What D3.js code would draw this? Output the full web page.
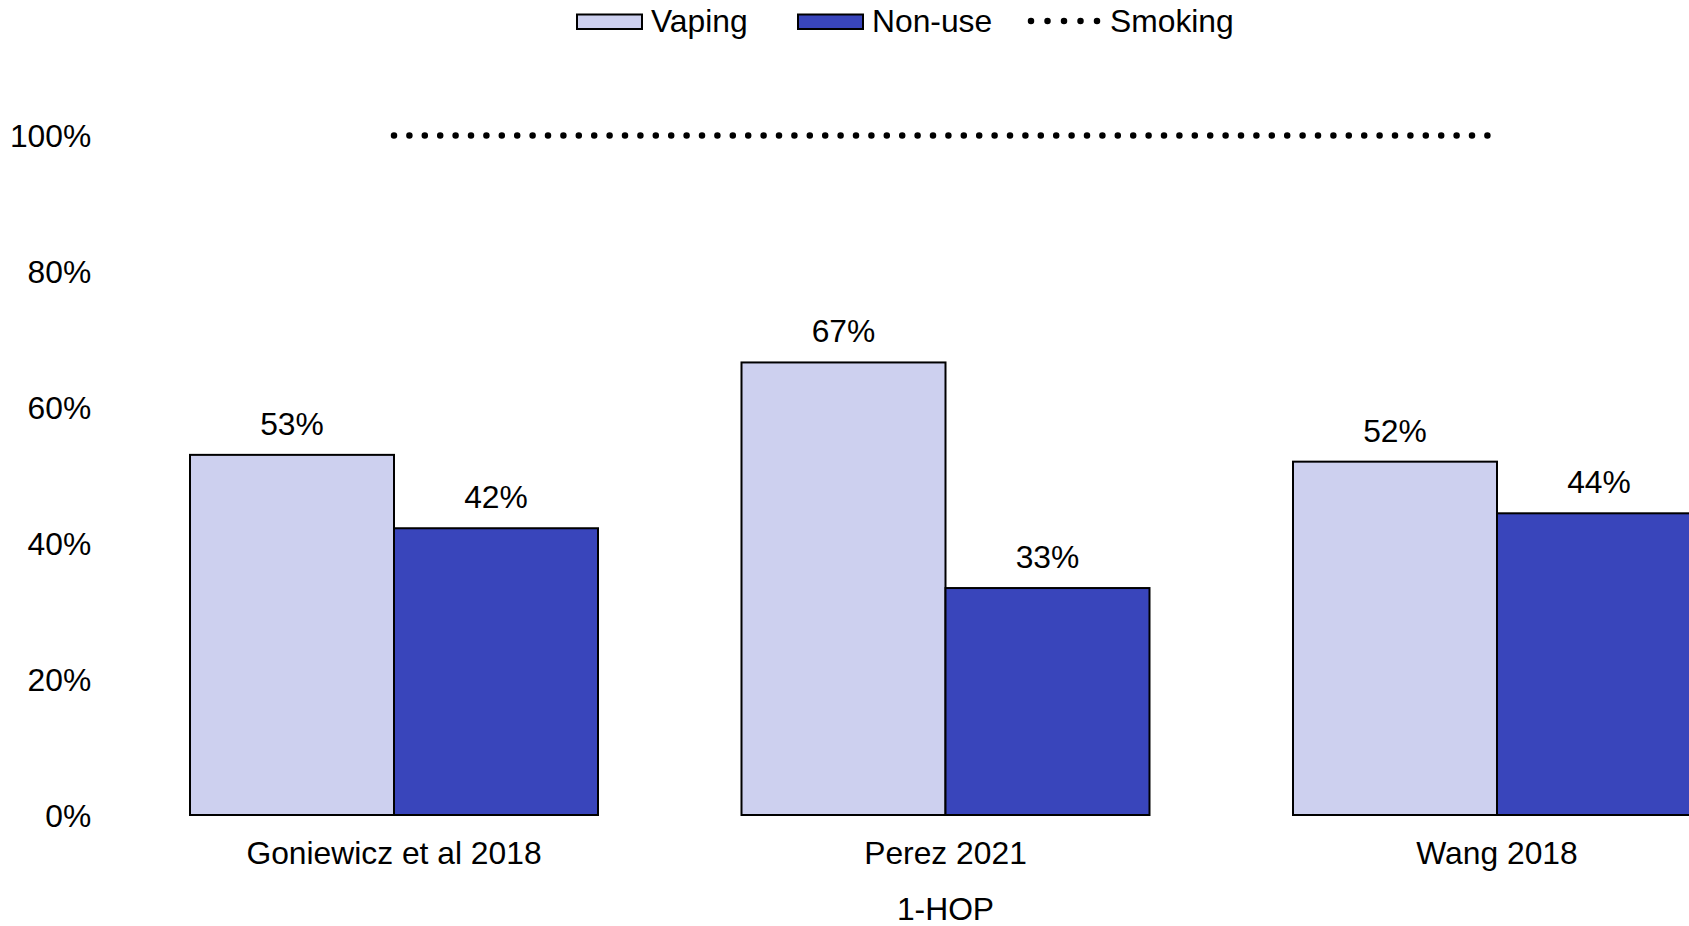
<!DOCTYPE html>
<html>
<head>
<meta charset="utf-8">
<script src="https://cdn.jsdelivr.net/npm/d3@7"></script>
<style>
  html, body { margin: 0; padding: 0; background: #fff; }
  svg { display: block; }
  text { font-family: "Liberation Sans", Arial, sans-serif; fill: #000; }
</style>
</head>
<body>
<svg id="chart" width="1689" height="926"></svg>
<script>
// ---- data ----
const categories = ["Goniewicz et al 2018", "Perez 2021", "Wang 2018"];
const seriesNames = ["Vaping", "Non-use"];
const vaping = [0.53, 0.666, 0.52];
const nonUse = [0.422, 0.334, 0.444];
const smoking = [1.0, 1.0, 1.0];
const yTicks = [0, 0.2, 0.4, 0.6, 0.8, 1.0];
const xAxisTitle = "1-HOP";
const legendLabels = ["Vaping", "Non-use", "Smoking"];

// ---- layout ----
const W = 1689, H = 926;
const baseY = 815, topY = 135.5;
const rangeL = 118.25, rangeR = 1772.75;
const FS = 31.8;
const colors = { "Vaping": "#CDD0EF", "Non-use": "#3945BB" };

const svg = d3.select("#chart");

const x0 = d3.scaleBand().domain(categories).range([rangeL, rangeR])
  .paddingInner(0.2602).paddingOuter(0.1301);
const x1 = d3.scaleBand().domain(seriesNames).range([0, x0.bandwidth()]).padding(0);
const y = d3.scaleLinear().domain([0, 1]).range([baseY, topY]);

const rows = categories.map((c, i) => ({
  cat: c,
  vals: [{ s: "Vaping", v: vaping[i] }, { s: "Non-use", v: nonUse[i] }]
}));

// bars
const groups = svg.append("g").selectAll("g").data(rows).join("g")
  .attr("transform", d => `translate(${x0(d.cat)},0)`);

groups.selectAll("rect").data(d => d.vals).join("rect")
  .attr("x", d => x1(d.s))
  .attr("y", d => y(d.v))
  .attr("width", x1.bandwidth())
  .attr("height", d => y(0) - y(d.v))
  .attr("fill", d => colors[d.s])
  .attr("stroke", "#000")
  .attr("stroke-width", 2);

groups.selectAll("text.lbl").data(d => d.vals).join("text")
  .attr("class", "lbl")
  .attr("x", d => x1(d.s) + x1.bandwidth() / 2)
  .attr("y", d => y(d.v) - 20)
  .attr("text-anchor", "middle")
  .attr("font-size", FS)
  .text(d => Math.round(d.v * 100) + "%");

// smoking dotted line
const line = d3.line()
  .x((d, i) => x0(categories[i]) + x0.bandwidth() / 2)
  .y(d => y(d));
svg.append("path")
  .datum(smoking)
  .attr("d", line)
  .attr("fill", "none")
  .attr("stroke", "#000")
  .attr("stroke-width", 6.5)
  .attr("stroke-linecap", "round")
  .attr("stroke-dasharray", "0 15.4");

// y axis
const yAxis = d3.axisLeft(y).tickValues(yTicks).tickSize(0).tickPadding(27)
  .tickFormat(d => Math.round(d * 100) + "%");
const gy = svg.append("g").attr("transform", `translate(${rangeL},0)`).call(yAxis);
gy.select(".domain").remove();
gy.selectAll("text").attr("font-size", FS).attr("font-family", null)
  .attr("fill", "#000").attr("dy", "0.35em");

// x axis
const xAxis = d3.axisBottom(x0).tickSize(0);
const gx = svg.append("g").attr("transform", `translate(0,${baseY})`).call(xAxis);
gx.select(".domain").remove();
gx.selectAll("text").attr("font-size", FS).attr("font-family", null)
  .attr("fill", "#000").attr("dy", null).attr("y", 49);

// x axis title
svg.append("text")
  .attr("x", (rangeL + rangeR) / 2)
  .attr("y", 920)
  .attr("text-anchor", "middle")
  .attr("font-size", FS)
  .text(xAxisTitle);

// legend
const legendX = [577, 798, 1031];
const legendTextX = [651, 872, 1110];
const lg = svg.append("g");
legendLabels.forEach((name, i) => {
  if (i < 2) {
    lg.append("rect")
      .attr("x", legendX[i]).attr("y", 14.5)
      .attr("width", 65).attr("height", 14.5)
      .attr("fill", colors[name]).attr("stroke", "#000").attr("stroke-width", 2);
  } else {
    lg.append("line")
      .attr("x1", legendX[i]).attr("x2", legendX[i] + 67)
      .attr("y1", 21).attr("y2", 21)
      .attr("stroke", "#000").attr("stroke-width", 6.5)
      .attr("stroke-linecap", "round")
      .attr("stroke-dasharray", "0 16.5");
  }
  lg.append("text")
    .attr("x", legendTextX[i]).attr("y", 21)
    .attr("dy", "0.35em")
    .attr("font-size", FS)
    .text(name);
});
</script>
</body>
</html>
